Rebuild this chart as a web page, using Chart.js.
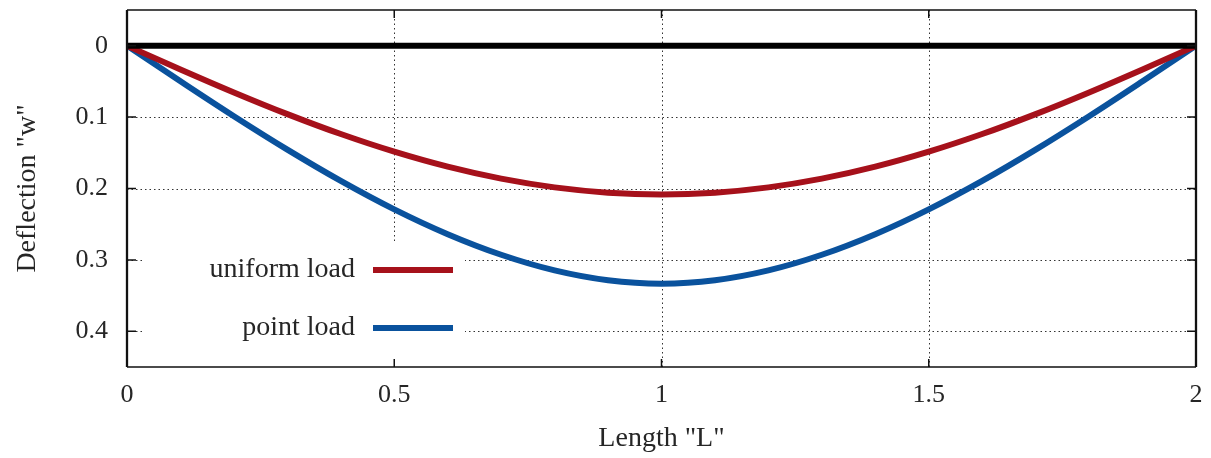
<!DOCTYPE html>
<html><head><meta charset="utf-8">
<script src="https://cdn.jsdelivr.net/npm/chart.js@4"></script>
<style>html,body{margin:0;padding:0;background:#fff;}#wrap{width:1211px;height:458px;}</style>
</head><body><div id="wrap"><canvas id="c" width="1211" height="458"></canvas></div>
<script>
const lengthX = [0,0.1,0.2,0.3,0.4,0.5,0.6,0.7,0.8,0.9,1.0,1.1,1.2,1.3,1.4,1.5,1.6,1.7,1.8,1.9,2.0];
const uniformLoad = [0,0.0332,0.0654,0.0958,0.1237,0.1484,0.1694,0.1862,0.1984,0.2058,0.2083,0.2058,0.1984,0.1862,0.1694,0.1484,0.1237,0.0958,0.0654,0.0332,0];
const pointLoad = [0,0.0498,0.0987,0.1455,0.1893,0.2292,0.2640,0.2928,0.3147,0.3285,0.3333,0.3285,0.3147,0.2928,0.2640,0.2292,0.1893,0.1455,0.0987,0.0498,0];
const zeroX = [0,2];
const zeroY = [0,0];
const xTicks = [0,0.5,1,1.5,2];
const xTickLabels = ['0','0.5','1','1.5','2'];
const yTicks = [0,0.1,0.2,0.3,0.4];
const yTickLabels = ['0','0.1','0.2','0.3','0.4'];
const seriesNames = ['uniform load','point load'];
const xTitle = 'Length "L"';
const yTitle = 'Deflection "w"';

const FONT = '"Liberation Serif","DejaVu Serif",serif';
const TXT = '#262626';
const RED = '#a6111b';
const BLUE = '#0a529d';

const pts = (xs, ys) => xs.map((v,i)=>({x:v,y:ys[i]}));

const framePlugin = {
  id:'frame',
  beforeDatasetsDraw(chart){
    const {ctx, chartArea:a, scales:{x,y}} = chart;
    ctx.save();
    ctx.strokeStyle='rgba(0,0,0,0.8)'; ctx.lineWidth=1; ctx.setLineDash([1.5,3]);
    ctx.beginPath();
    xTicks.forEach(v=>{ if(v<=x.min||v>=x.max) return; const p=Math.round(x.getPixelForValue(v))+0.5; ctx.moveTo(p,a.top); ctx.lineTo(p,a.bottom); });
    yTicks.forEach(v=>{ const p=Math.round(y.getPixelForValue(v))+0.5; ctx.moveTo(a.left,p); ctx.lineTo(a.right,p); });
    ctx.stroke();
    ctx.setLineDash([]);
    ctx.fillStyle='#fff';
    ctx.fillRect(a.left+18, a.top+232, 320, a.bottom-(a.top+232));
    ctx.restore();
  },
  afterDatasetsDraw(chart){
    const {ctx, chartArea:a, scales:{x,y}} = chart;
    ctx.save();
    // legend
    const cols=[RED,BLUE];
    ctx.font='28px '+FONT; ctx.fillStyle=TXT; ctx.textAlign='right'; ctx.textBaseline='middle';
    seriesNames.forEach((n,i)=>{
      const yy=a.top+260+i*58;
      ctx.fillText(n, a.left+228, yy);
      ctx.strokeStyle=cols[i]; ctx.lineWidth=6; ctx.beginPath(); ctx.moveTo(a.left+246,yy); ctx.lineTo(a.left+326,yy); ctx.stroke();
    });
    // border
    ctx.strokeStyle='#111'; ctx.lineWidth=1.5;
    ctx.beginPath(); ctx.moveTo(a.left,a.top); ctx.lineTo(a.right,a.top); ctx.moveTo(a.left,a.bottom); ctx.lineTo(a.right,a.bottom); ctx.stroke();
    ctx.lineWidth=2.3;
    ctx.beginPath(); ctx.moveTo(a.left,a.top); ctx.lineTo(a.left,a.bottom); ctx.moveTo(a.right,a.top); ctx.lineTo(a.right,a.bottom); ctx.stroke();
    // major ticks
    ctx.lineWidth=1.5; ctx.beginPath();
    yTicks.forEach(v=>{ const p=y.getPixelForValue(v); ctx.moveTo(a.left,p); ctx.lineTo(a.left+9,p); ctx.moveTo(a.right,p); ctx.lineTo(a.right-9,p); });
    xTicks.forEach(v=>{ const p=x.getPixelForValue(v); ctx.moveTo(p,a.bottom); ctx.lineTo(p,a.bottom-8); ctx.moveTo(p,a.top); ctx.lineTo(p,a.top+8); });
    ctx.stroke();
    ctx.restore();
  }
};

new Chart(document.getElementById('c'), {
  type:'line',
  data:{ datasets:[
    {label:'zero', data:pts(zeroX,zeroY), borderColor:'#000', borderWidth:6, pointRadius:0, tension:0},
    {label:seriesNames[0], data:pts(lengthX,uniformLoad), borderColor:RED, borderWidth:6, pointRadius:0, cubicInterpolationMode:'monotone'},
    {label:seriesNames[1], data:pts(lengthX,pointLoad), borderColor:BLUE, borderWidth:6, pointRadius:0, cubicInterpolationMode:'monotone'}
  ]},
  options:{
    responsive:false, devicePixelRatio:1, animation:false,
    layout:{padding:{left:0,right:15,top:10,bottom:0}},
    plugins:{legend:{display:false}, tooltip:{enabled:false}},
    scales:{
      x:{type:'linear', min:0, max:2,
        afterBuildTicks:s=>{ s.ticks = xTicks.map(v=>({value:v})); },
        afterFit:s=>{ s.height=91; s.paddingLeft=0; s.paddingRight=0; },
        grid:{display:false, drawTicks:false}, border:{display:false},
        ticks:{padding:13, color:TXT, font:{family:FONT,size:26}, maxRotation:0, autoSkip:false,
          callback:(v)=>{ const i=xTicks.indexOf(v); return i>=0?xTickLabels[i]:''; }},
        title:{display:true, text:xTitle, color:TXT, font:{family:FONT,size:28}, padding:{top:3,bottom:3}}
      },
      y:{type:'linear', reverse:true, min:-0.05, max:0.45,
        afterBuildTicks:s=>{ s.ticks = yTicks.map(v=>({value:v})); },
        afterFit:s=>{ s.width=127; s.paddingTop=0; s.paddingBottom=0; },
        grid:{display:false, drawTicks:false}, border:{display:false},
        ticks:{padding:19, color:TXT, font:{family:FONT,size:26}, autoSkip:false,
          callback:(v)=>{ const i=yTicks.findIndex(t=>Math.abs(t-v)<1e-9); return i>=0?yTickLabels[i]:''; }},
        title:{display:true, text:yTitle, color:TXT, font:{family:FONT,size:28}, padding:{top:11,bottom:11}}
      }
    }
  },
  plugins:[framePlugin]
});
</script></body></html>
